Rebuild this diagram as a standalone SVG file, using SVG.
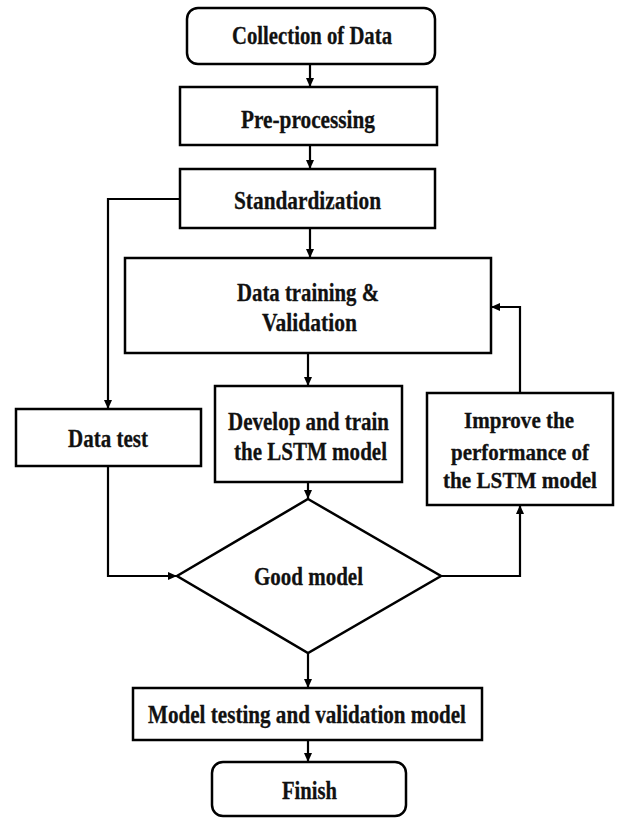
<svg xmlns="http://www.w3.org/2000/svg" width="619" height="818" viewBox="0 0 619 818">
<style>
.box{fill:#fff;stroke:#000;stroke-width:2.5}
.lbl{font-family:'Liberation Serif','Times New Roman',serif;font-weight:700;font-size:25.5px;fill:#111;stroke:#111;stroke-width:0.3;text-anchor:middle}
.sm{font-size:24px}
.con{fill:none;stroke:#000;stroke-width:2.2}
</style>
<defs>
<marker id="ah" markerUnits="userSpaceOnUse" markerWidth="10" markerHeight="8" refX="9" refY="4" orient="auto">
<path d="M0,0 L9,4 L0,8 Z" fill="#000"/>
</marker>
</defs>
<rect width="619" height="818" fill="#fff"/>
<g id="connectors">
<path class="con" d="M310,64 V87" marker-end="url(#ah)"/>
<path class="con" d="M310,145 V169" marker-end="url(#ah)"/>
<path class="con" d="M310,228 V258" marker-end="url(#ah)"/>
<path class="con" d="M180,199 H108 V409" marker-end="url(#ah)"/>
<path class="con" d="M308,353 V386" marker-end="url(#ah)"/>
<path class="con" d="M308,482 V499" marker-end="url(#ah)"/>
<path class="con" d="M108,466 V576 H177" marker-end="url(#ah)"/>
<path class="con" d="M441,576 H520 V505" marker-end="url(#ah)"/>
<path class="con" d="M520,393 V307 H491" marker-end="url(#ah)"/>
<path class="con" d="M308,653 V688" marker-end="url(#ah)"/>
<path class="con" d="M308,740 V762" marker-end="url(#ah)"/>
</g>
<g id="collection">
<rect class="box" x="187" y="8" width="248" height="56" rx="11"/>
<text class="lbl" x="312" y="44" textLength="160" lengthAdjust="spacingAndGlyphs">Collection of Data</text>
</g>
<g id="preprocessing">
<rect class="box" x="180" y="87" width="257" height="58"/>
<text class="lbl" x="308" y="128" textLength="134" lengthAdjust="spacingAndGlyphs">Pre-processing</text>
</g>
<g id="standardization">
<rect class="box" x="180" y="169" width="255" height="59"/>
<text class="lbl" x="307.5" y="209" textLength="147" lengthAdjust="spacingAndGlyphs">Standardization</text>
</g>
<g id="training">
<rect class="box" x="125" y="258" width="366" height="95"/>
<text class="lbl" x="308" y="301" textLength="142" lengthAdjust="spacingAndGlyphs">Data training &amp;</text>
<text class="lbl" x="309.5" y="331" textLength="95" lengthAdjust="spacingAndGlyphs">Validation</text>
</g>
<g id="develop">
<rect class="box" x="215" y="386" width="187" height="96"/>
<text class="lbl" x="308.5" y="430" textLength="161" lengthAdjust="spacingAndGlyphs">Develop and train</text>
<text class="lbl" x="310.5" y="460" textLength="153" lengthAdjust="spacingAndGlyphs">the LSTM model</text>
</g>
<g id="datatest">
<rect class="box" x="16" y="409" width="185" height="57"/>
<text class="lbl" x="108" y="447" textLength="80" lengthAdjust="spacingAndGlyphs">Data test</text>
</g>
<g id="improve">
<rect class="box" x="427" y="393" width="186" height="112"/>
<text class="lbl sm" x="519" y="428" textLength="110" lengthAdjust="spacingAndGlyphs">Improve the</text>
<text class="lbl sm" x="520" y="460" textLength="138" lengthAdjust="spacingAndGlyphs">performance of</text>
<text class="lbl sm" x="520" y="488" textLength="154" lengthAdjust="spacingAndGlyphs">the LSTM model</text>
</g>
<g id="goodmodel">
<polygon class="box" points="308,499 441,576 308,653 177,576"/>
<text class="lbl" x="308.5" y="585" textLength="109" lengthAdjust="spacingAndGlyphs">Good model</text>
</g>
<g id="testing">
<rect class="box" x="133" y="688" width="349" height="52"/>
<text class="lbl" x="307" y="723" textLength="318" lengthAdjust="spacingAndGlyphs">Model testing and validation model</text>
</g>
<g id="finish">
<rect class="box" x="212" y="762" width="194" height="54" rx="11"/>
<text class="lbl" x="309.5" y="799" textLength="55" lengthAdjust="spacingAndGlyphs">Finish</text>
</g>
</svg>
